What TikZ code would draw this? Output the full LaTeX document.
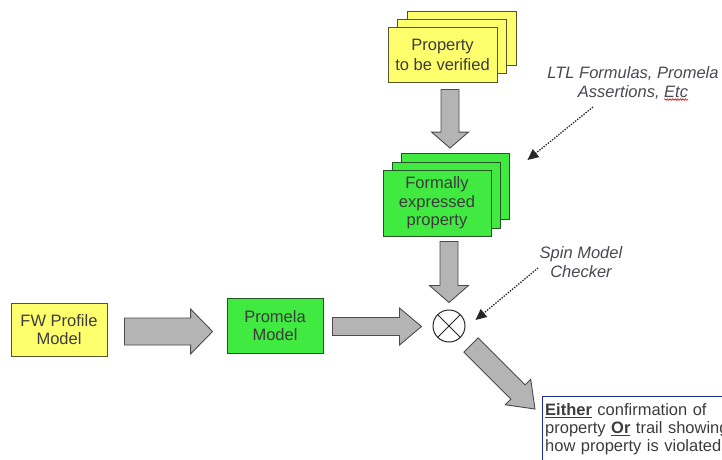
\documentclass[tikz,border=0pt]{standalone}
\usepackage{fontspec}
\setmainfont{Liberation Sans}
\usetikzlibrary{calc,arrows.meta,decorations.pathmorphing}

\definecolor{boxyellow}{RGB}{255,255,110}
\definecolor{boxgreen}{RGB}{64,234,64}
\definecolor{yellowedge}{RGB}{85,85,45}
\definecolor{greenedge}{RGB}{35,85,35}
\definecolor{labelgray}{RGB}{60,60,60}
\definecolor{notegray}{RGB}{72,72,82}
\definecolor{pointergray}{RGB}{40,40,40}
\definecolor{arrowfill}{RGB}{180,180,180}
\definecolor{arrowedge}{RGB}{75,75,75}
\definecolor{resultblue}{RGB}{30,45,150}

% Block arrow from #1 to #2: shaft half width #3, head half width #4, head length #5
\newcommand\blockarrow[5]{%
  \coordinate (#1-base) at ($(#2)!#5!(#1)$);
  \draw[blockarr]
    ($(#1)!#3!90:(#2)$) -- ($(#1-base)!#3!90:(#2)$) -- ($(#1-base)!#4!90:(#2)$)
    -- (#2)
    -- ($(#1-base)!#4!-90:(#2)$) -- ($(#1-base)!#3!-90:(#2)$) -- ($(#1)!#3!-90:(#2)$)
    -- cycle;}

\begin{document}
\begin{tikzpicture}[x=1pt,y=-1pt,
  every node/.style={font=\fontsize{16.5}{18.5}\selectfont, text=labelgray},
  ybox/.style={draw=yellowedge, fill=boxyellow, line width=0.9pt, inner sep=0pt, align=center},
  gbox/.style={draw=greenedge, fill=boxgreen, line width=0.9pt, inner sep=0pt, align=center},
  blockarr/.style={draw=arrowedge, fill=arrowfill, line width=0.9pt, line join=miter},
  note/.style={font=\itshape\fontsize{16.5}{19}\selectfont, text=notegray, align=center, inner sep=0pt},
  pointer/.style={draw=pointergray, line width=1.3pt, dash pattern=on 1.4pt off 1.3pt,
    -{Triangle[length=11pt,width=10pt]}}]

\useasboundingbox (0,0) rectangle (722,459);
\clip (0,0) rectangle (722,459);

% property to be verified (stacked sheets)
\node[ybox, minimum width=109pt, minimum height=54pt] (propC) at (461.5,38) {};
\node[ybox, minimum width=109pt, minimum height=54pt] (propB) at (452,46.5) {};
\node[ybox, minimum width=109pt, minimum height=55pt,
      font=\fontsize{16.5}{20}\selectfont] (prop) at (442.5,54.5) {Property\\to be verified};

% formally expressed property (stacked sheets)
\node[gbox, minimum width=108pt, minimum height=66pt] (formC) at (455,186.5) {};
\node[gbox, minimum width=108pt, minimum height=66pt] (formB) at (446,195) {};
\node[gbox, minimum width=108pt, minimum height=66pt] (form) at (437,203) {Formally\\expressed\\property};

% models
\node[ybox, minimum width=96pt, minimum height=53pt] (fw) at (59,329.5) {FW Profile\\Model};
\node[gbox, minimum width=96pt, minimum height=55pt] (prom) at (275,325.5) {Promela\\Model};

% model checker
\node[circle, draw=black!85, fill=white, line width=1pt, minimum size=32pt, inner sep=0pt,
      path picture={\draw[black!85, line width=1pt]
        (path picture bounding box.north west) -- (path picture bounding box.south east)
        (path picture bounding box.north east) -- (path picture bounding box.south west);}]
      (mc) at (449,326) {};

% annotations
\node[note] (ltl) at (633,83) {LTL Formulas, Promela\\Assertions, Etc};
\draw[red!90!black, line width=0.6pt, decorate,
      decoration={snake, amplitude=0.8pt, segment length=2.6pt}]
  ($(ltl.center)+(31,16.5)$) -- ($(ltl.center)+(55,16.5)$);
\node[note] (spin) at (581,262) {Spin Model\\Checker};

% result
\node[anchor=north west, inner xsep=3pt, inner ysep=7pt, text width=200pt, align=left,
      font=\fontsize{16.5}{18}\selectfont] (res) at (542,396)
  {\underline{\textbf{Either}} confirmation of\\
   property \underline{\textbf{Or}} trail showing\\
   how property is violated};
\draw[resultblue, line width=1pt] (res.north west) rectangle ($(res.north west)+(220,90)$);

% block arrows
\coordinate (a1s) at ($(prop.south)+(7.5,7)$);
\coordinate (a1e) at ($(formC.north)+(-5,-5)$);
\blockarrow{a1s}{a1e}{9pt}{18.5pt}{16pt}

\coordinate (a2s) at ($(form.south)+(12,5)$);
\coordinate (a2e) at ($(mc.north)+(0,-7)$);
\blockarrow{a2s}{a2e}{9pt}{19.5pt}{17pt}

\coordinate (a3s) at ($(fw.east)+(17,2)$);
\coordinate (a3e) at ($(prom.west)+(-14,6)$);
\blockarrow{a3s}{a3e}{13.5pt}{22.5pt}{22pt}

\coordinate (a4s) at ($(prom.east)+(9,1)$);
\coordinate (a4e) at ($(mc.west)+(-11,0.5)$);
\blockarrow{a4s}{a4e}{9pt}{18.5pt}{22pt}

\coordinate (a5s) at ($(mc.center)+(22,19)$);
\coordinate (a5e) at ($(res.north west)+(-7,13)$);
\blockarrow{a5s}{a5e}{10pt}{18pt}{24pt}

% dotted pointers
\coordinate (p1e) at ($(formC.east)+(18,-26.5)$);
\draw[pointer] ($(ltl.center)+(-40,24)$) -- (p1e);
\coordinate (p2e) at ($(mc.east)+(10,-6)$);
\draw[pointer] ($(spin.center)+(-43,6)$) -- (p2e);

\end{tikzpicture}
\end{document}
